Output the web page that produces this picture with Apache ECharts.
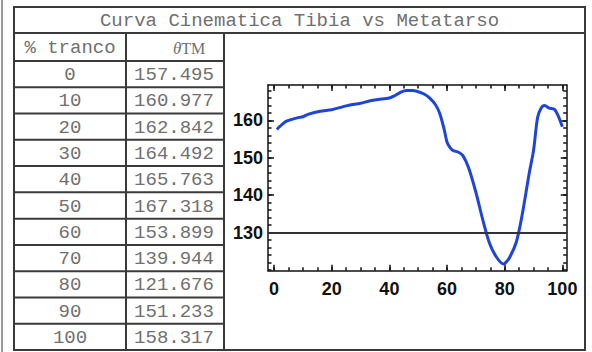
<!DOCTYPE html>
<html>
<head>
<meta charset="utf-8">
<script src="https://cdn.jsdelivr.net/npm/echarts@6/dist/echarts.min.js"></script>
<style>
html,body{margin:0;padding:0;background:#fff;}
#c{width:592px;height:352px;}
</style>
</head>
<body>
<div id="c"></div>
<script>
// ---- data ----
const title = 'Curva Cinematica Tibia vs Metatarso';
const tableHeaderPct = '% tranco';
const tablePct = [0, 10, 20, 30, 40, 50, 60, 70, 80, 90, 100];
const tableTheta = ['157.495', '160.977', '162.842', '164.492', '165.763', '167.318', '153.899', '139.944', '121.676', '151.233', '158.317'];

const curveX = [1, 2, 4, 8, 10, 12, 16, 20, 24, 26, 30, 33, 36, 40, 42, 44, 46, 48, 50, 52, 54, 56, 57.5, 59, 60, 61, 62, 64, 65.5, 67.5, 70, 72.4, 74.7, 77, 79.5, 80, 81.6, 84, 86, 88.5, 90, 91.4, 92.6, 93.8, 95.5, 97.2, 98.4, 100];
const curveY = [157.6, 158.4, 159.7, 160.7, 161.0, 161.7, 162.5, 162.9, 163.7, 164.1, 164.6, 165.2, 165.6, 166.0, 166.7, 167.6, 168.0, 168.0, 167.7, 167.1, 166.0, 164.2, 161.8, 157.6, 154.2, 152.8, 152.0, 151.5, 150.6, 147.3, 140.8, 133.4, 127.2, 123.6, 121.6, 121.7, 123.2, 127.4, 134.5, 145.9, 152.0, 160.8, 163.3, 164.0, 163.3, 163.0, 161.5, 158.3];

const xTickLabels = [0, 20, 40, 60, 80, 100];
const xMinorTicks = [0,5,10,15,20,25,30,35,40,45,50,55,60,65,70,75,80,85,90,95,100];
const yTickLabels = [130, 140, 150, 160];
const yMinorTicks = [120,122,124,126,128,130,132,134,136,138,140,142,144,146,148,150,152,154,156,158,160,162,164,166,168];
const refLineY = 130;

// ---- layout ----
const L = 14, R = 585, T = 7, B = 350;
const titleBottom = 33, headerBottom = 61;
const col1 = 126, col2 = 224;
const rowH = (B - headerBottom) / tablePct.length;
const border = {stroke: '#3a3a3a', lineWidth: 2};
const mono = '"Liberation Mono", "DejaVu Sans Mono", monospace';
const txtColor = '#707070';

const g = [];
g.push({type: 'line', shape: {x1: 2, y1: 0, x2: 2, y2: 352}, style: {stroke: '#9a9a9a', lineWidth: 2}});
g.push({type: 'rect', shape: {x: L, y: T, width: R - L, height: B - T}, style: {fill: 'none', stroke: '#3a3a3a', lineWidth: 2}});
g.push({type: 'line', shape: {x1: L, y1: titleBottom, x2: R, y2: titleBottom}, style: border});
g.push({type: 'line', shape: {x1: L, y1: headerBottom, x2: col2, y2: headerBottom}, style: border});
g.push({type: 'line', shape: {x1: col1, y1: titleBottom, x2: col1, y2: B}, style: border});
g.push({type: 'line', shape: {x1: col2, y1: titleBottom, x2: col2, y2: B}, style: border});
for (let i = 1; i < tablePct.length; i++) {
  const y = headerBottom + rowH * i;
  g.push({type: 'line', shape: {x1: L, y1: y, x2: col2, y2: y}, style: border});
}
g.push({type: 'text', x: (L + R) / 2, y: (T + titleBottom) / 2 + 1, style: {text: title, font: '19px ' + mono, fill: txtColor, align: 'center', verticalAlign: 'middle'}});
g.push({type: 'text', x: (L + col1) / 2, y: (titleBottom + headerBottom) / 2 + 1, style: {text: tableHeaderPct, font: '19px ' + mono, fill: txtColor, align: 'center', verticalAlign: 'middle'}});
g.push({type: 'text', x: 173, y: (titleBottom + headerBottom) / 2 + 1, style: {
  text: '{i|θ}{n|TM}', align: 'left', verticalAlign: 'middle',
  rich: {
    i: {font: 'italic 17px "Liberation Serif", serif', fill: txtColor},
    n: {font: '16px "Liberation Serif", serif', fill: txtColor}
  }
}});
for (let i = 0; i < tablePct.length; i++) {
  const cy = headerBottom + rowH * (i + 0.5) + 1;
  g.push({type: 'text', x: (L + col1) / 2, y: cy, style: {text: String(tablePct[i]), font: '19px ' + mono, fill: txtColor, align: 'center', verticalAlign: 'middle'}});
  g.push({type: 'text', x: (col1 + col2) / 2 - 1, y: cy, style: {text: tableTheta[i], font: '19px ' + mono, fill: txtColor, align: 'center', verticalAlign: 'middle'}});
}

const chart = echarts.init(document.getElementById('c'), null, {renderer: 'svg', width: 592, height: 352});

const xMin = -2.1, xMax = 101.5, yMin = 119.8, yMax = 169.5;
const lblFont = {fontFamily: '"Liberation Sans", Arial, sans-serif', fontWeight: 'bold', fontSize: 18, color: '#111'};
const frame = {color: '#111', width: 1.5};
const tickStyle = {color: '#111', width: 1.5};

function xAx(pos, major, showLbl) {
  return {
    type: 'value', min: xMin, max: xMax, position: pos, scale: true,
    axisLine: {show: major, onZero: false, lineStyle: frame},
    axisTick: {show: true, inside: true, length: major ? 6 : 3.5, customValues: major ? xTickLabels : xMinorTicks, lineStyle: tickStyle},
    axisLabel: Object.assign({show: showLbl, customValues: xTickLabels, margin: 9}, lblFont),
    splitLine: {show: false}
  };
}
function yAx(pos, major, showLbl) {
  return {
    type: 'value', min: yMin, max: yMax, position: pos, scale: true,
    axisLine: {show: major, onZero: false, lineStyle: frame},
    axisTick: {show: true, inside: true, length: major ? 6 : 3.5, customValues: major ? yTickLabels : yMinorTicks, lineStyle: tickStyle},
    axisLabel: Object.assign({show: showLbl, customValues: yTickLabels, margin: 5}, lblFont),
    splitLine: {show: false}
  };
}

chart.setOption({
  animation: false,
  backgroundColor: '#fff',
  graphic: g,
  grid: {left: 268, top: 85, width: 298.7, height: 185.7, containLabel: false},
  xAxis: [xAx('bottom', true, true), xAx('bottom', false, false), xAx('top', true, false), xAx('top', false, false)],
  yAxis: [yAx('left', true, true), yAx('left', false, false), yAx('right', true, false), yAx('right', false, false)],
  series: [{
    type: 'line',
    xAxisIndex: 0, yAxisIndex: 0,
    data: curveX.map((x, i) => [x, curveY[i]]),
    showSymbol: false,
    smooth: 0.3,
    lineStyle: {color: '#1f45d8', width: 3},
    markLine: {
      silent: true, symbol: 'none', label: {show: false},
      lineStyle: {color: '#333', width: 2.2, type: 'solid', opacity: 1},
      emphasis: {disabled: true},
      data: [{yAxis: refLineY}]
    }
  }]
});
</script>
</body>
</html>
